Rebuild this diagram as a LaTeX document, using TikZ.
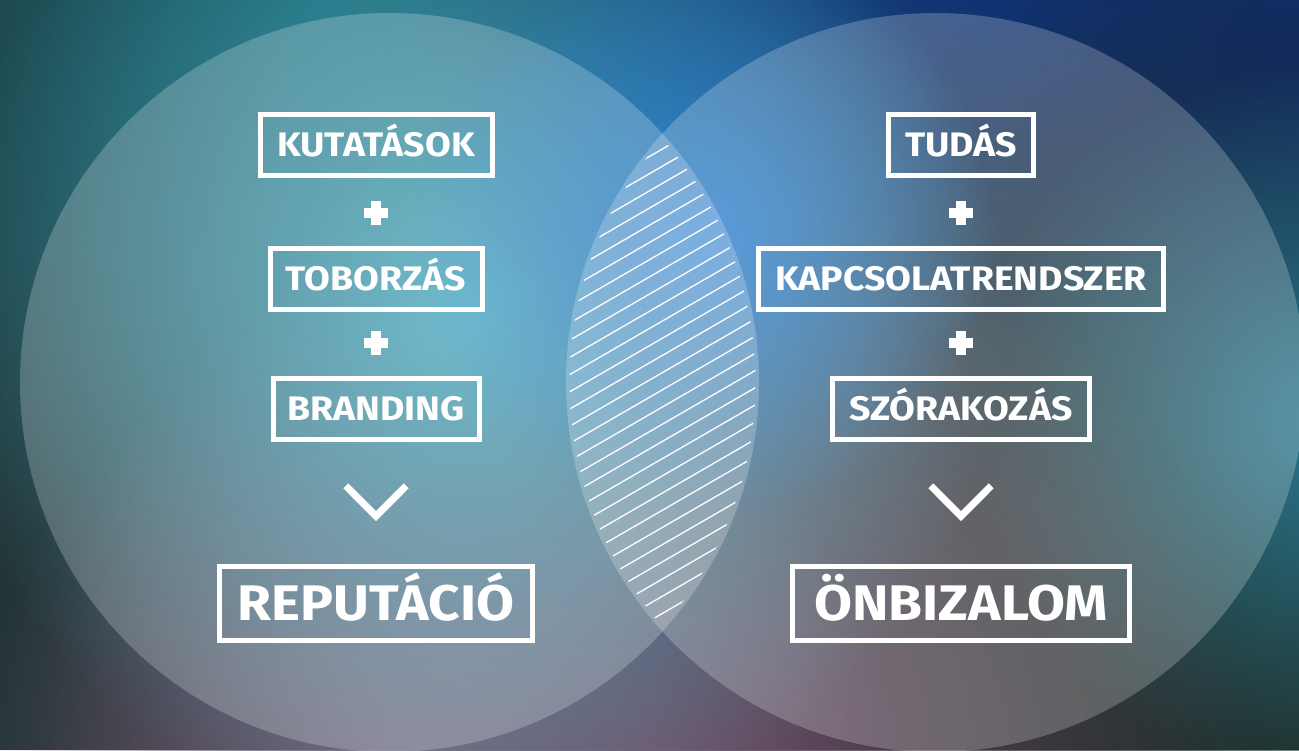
\documentclass[tikz,border=0pt]{standalone}
\usepackage{fontspec}
\setmainfont{Fira Sans}[FakeStretch=1.1]
\usetikzlibrary{positioning,fadings}

\definecolor{bgbase}{HTML}{233436}
\definecolor{glowteal}{HTML}{1A6470}
\definecolor{glowblue}{HTML}{0C3A96}
\definecolor{glowdeep}{HTML}{0F2A70}
\definecolor{glowcyan}{HTML}{48AAC0}
\definecolor{glowsky}{HTML}{2A7ED0}
\definecolor{glowmauve}{HTML}{6A4862}
\definecolor{glowrose}{HTML}{7A6278}
\definecolor{glowsea}{HTML}{2A7890}
\definecolor{glowmoss}{HTML}{1F2E26}

\tikzfading[name=glowfade, inner color=transparent!0, outer color=transparent!100]

\tikzset{
  box/.style={draw=white, line width=5pt, text=white, inner sep=0pt,
    font=\bfseries\fontsize{34}{40}\selectfont, minimum height=61pt,
    text height=23.4pt, text depth=0pt},
  bigbox/.style={box, minimum height=74pt, font=\bfseries\fontsize{50}{58}\selectfont,
    text height=34.5pt},
  plus/.style={inner sep=0pt, minimum size=23pt},
  plusbar/.style={white, line width=10pt},
  chevron/.style={inner sep=0pt, minimum width=60pt, minimum height=30pt},
  chevronline/.style={white, line width=7pt, miter limit=10},
  glow/.style={fill=#1, path fading=glowfade},
  bubble/.style={fill=white, fill opacity=0.22},
  hatch/.style={white, line width=1.3pt}
}

\begin{document}
\begin{tikzpicture}[x=1pt, y=-1pt]
        \useasboundingbox (0,0) rectangle (1299,750);

        % Background glow
        \fill[bgbase] (0,0) rectangle (1299,750);
        \fill[glow=glowteal] (320,0) circle (620);
        \fill[glow=glowblue] (1000,0) circle (620);
        \fill[glow=glowdeep] (1280,60) circle (400);
        \fill[glow=glowmoss] (1100,540) circle (700);
        \fill[glow=glowsea] (1320,420) circle (360);
        \fill[glow=glowmauve] (640,770) circle (620);
        \fill[glow=glowrose] (430,770) circle (460);
        \fill[glow=glowcyan] (470,310) circle (540);
        \fill[glow=glowsky] (705,235) circle (290);

        % Circles
        \coordinate (left_c) at (389.5,382.5);
        \coordinate (right_c) at (935.5,382.5);
        \fill[bubble] (left_c) circle (369.5);
        \fill[bubble] (right_c) circle (369.5);

        % Hatching in the overlap
        \begin{scope}
          \clip (left_c) circle (366);
          \clip (right_c) circle (366);
          \foreach \i in {0,...,33} {
            \draw[hatch] (550,128+17.2*\i) -- ++(230,-133);
          }
        \end{scope}

        % Left column
        \node (kutatasok) [box, minimum width=232pt] at (376,145) {KUTATÁSOK};
        \node (plus_a) [plus, below of=kutatasok, node distance=68pt] {};
        \node (toborzas) [box, minimum width=212pt, below of=kutatasok, node distance=134pt] {TOBORZÁS};
        \node (plus_b) [plus, below of=toborzas, node distance=64pt] {};
        \node (branding) [box, minimum width=206pt, below of=toborzas, node distance=130pt] {BRANDING};
        \node (arrow_l) [chevron, below of=branding, node distance=92pt] {};
        \node (reputacio) [bigbox, minimum width=313pt, below of=arrow_l, node distance=102.5pt] {REPUTÁCIÓ};

        % Right column
        \node (tudas) [box, minimum width=145pt, right of=kutatasok, node distance=585pt] {TUDÁS};
        \node (plus_c) [plus, right of=plus_a, node distance=585pt] {};
        \node (kapcsolat) [box, minimum width=405pt, right of=toborzas, node distance=585pt] {KAPCSOLATRENDSZER};
        \node (plus_d) [plus, right of=plus_b, node distance=585pt] {};
        \node (szorakozas) [box, minimum width=257pt, right of=branding, node distance=585pt] {SZÓRAKOZÁS};
        \node (arrow_r) [chevron, right of=arrow_l, node distance=585pt] {};
        \node (onbizalom) [bigbox, minimum width=337pt, right of=reputacio, node distance=585pt] {ÖNBIZALOM};

        % Plus signs
        \foreach \p in {plus_a, plus_b, plus_c, plus_d} {
          \draw[plusbar] (\p.west) -- (\p.east);
          \draw[plusbar] (\p.north) -- (\p.south);
        }

        % Chevrons
        \foreach \a in {arrow_l, arrow_r} {
          \draw[chevronline] (\a.north west) -- (\a.south) -- (\a.north east);
        }
    \end{tikzpicture}
\end{document}
